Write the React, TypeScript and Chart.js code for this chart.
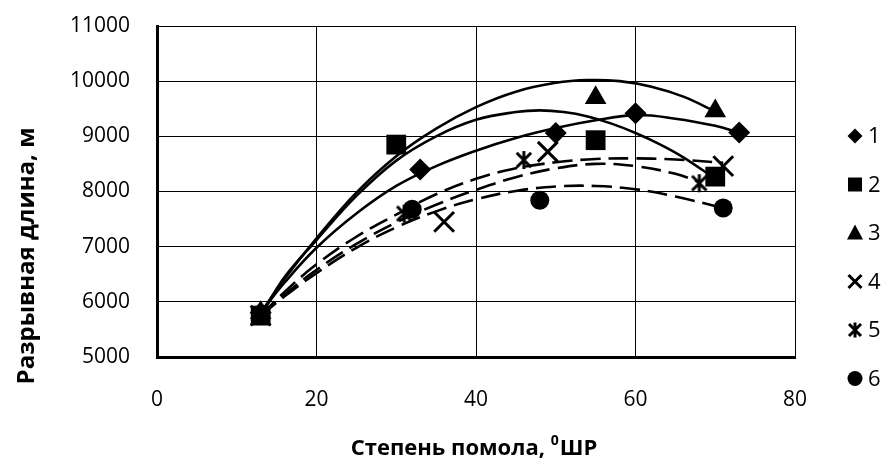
import React, { useEffect, useRef } from 'react';
import { Chart, registerables } from 'chart.js';

Chart.register(...registerables);

// ---- axis ticks / labels ----
const xTickValues = [0, 20, 40, 60, 80];
const yTickValues = [5000, 6000, 7000, 8000, 9000, 10000, 11000];
const legendLabels = ['1', '2', '3', '4', '5', '6'];
const yTitle = 'Разрывная длина, м';
const xTitleMain = 'Степень помола, ';
const xTitleSup = '0';
const xTitleTail = 'ШР';

// ---- measured points ----
const s1X = [13, 33, 50, 60, 73];
const s1Y = [5800, 8400, 9060, 9420, 9070];
const s2X = [13, 30, 55, 70];
const s2Y = [5750, 8850, 8930, 8270];
const s3X = [13, 55, 70];
const s3Y = [5800, 9700, 9460];
const s4X = [13, 36, 49, 71];
const s4Y = [5750, 7450, 8720, 8460];
const s5X = [13, 31, 46, 68];
const s5Y = [5750, 7600, 8570, 8150];
const s6X = [13, 32, 48, 71];
const s6Y = [5750, 7680, 7840, 7700];

// ---- trend lines ----
const t1X = [13, 16, 20, 25, 30, 35, 40, 45, 50, 55, 60, 65, 70, 73];
const t1Y = [5800, 6350, 6980, 7600, 8100, 8460, 8740, 8970, 9150, 9290, 9385, 9320, 9190, 9070];
const t2X = [13, 16, 20, 25, 30, 35, 40, 45, 48, 51, 54, 57, 60, 63, 66, 70];
const t2Y = [5750, 6450, 7120, 7920, 8560, 9000, 9300, 9440, 9470, 9440, 9360, 9230, 9060, 8860, 8620, 8230];
const t3X = [13, 16, 20, 25, 30, 35, 40, 45, 50, 54, 58, 62, 66, 70];
const t3Y = [5800, 6420, 7150, 7980, 8640, 9140, 9530, 9810, 9970, 10020, 10000, 9900, 9720, 9450];
const t4X = [13, 16, 20, 25, 30, 35, 40, 45, 50, 55, 60, 65, 71];
const t4Y = [5750, 6180, 6680, 7180, 7580, 7950, 8230, 8420, 8530, 8590, 8600, 8580, 8520];
const t5X = [13, 16, 20, 25, 30, 35, 40, 45, 50, 55, 60, 65, 68];
const t5Y = [5750, 6130, 6580, 7050, 7440, 7760, 8030, 8260, 8420, 8500, 8460, 8320, 8170];
const t6X = [13, 16, 20, 25, 30, 35, 40, 45, 50, 55, 60, 65, 71];
const t6Y = [5750, 6100, 6520, 6980, 7350, 7640, 7860, 8010, 8090, 8100, 8040, 7910, 7700];

const FONT = '"Open Sans", "Noto Sans", sans-serif';
const INK = '#000';

function pts(xs: number[], ys: number[]) {
  return xs.map((x, i) => ({ x, y: ys[i] }));
}

function makeAsterisk(size: number, lw: number): HTMLCanvasElement {
  const c = document.createElement('canvas');
  c.width = size;
  c.height = size;
  const g = c.getContext('2d')!;
  g.strokeStyle = INK;
  g.lineWidth = lw;
  const m = size / 2;
  const d = size / 2 - lw / 2 - 0.5;
  const k = d * 0.8;
  g.beginPath();
  g.moveTo(m - k, m - k); g.lineTo(m + k, m + k);
  g.moveTo(m + k, m - k); g.lineTo(m - k, m + k);
  g.moveTo(m, m - d); g.lineTo(m, m + d);
  g.stroke();
  return c;
}

function drawLegendMarker(ctx: CanvasRenderingContext2D, kind: number, x: number, y: number) {
  ctx.save();
  ctx.fillStyle = INK;
  ctx.strokeStyle = INK;
  ctx.lineWidth = 3;
  ctx.beginPath();
  if (kind === 0) {
    const r = 7.5;
    ctx.moveTo(x - r, y); ctx.lineTo(x, y - r); ctx.lineTo(x + r, y); ctx.lineTo(x, y + r);
    ctx.closePath(); ctx.fill();
  } else if (kind === 1) {
    ctx.rect(x - 7, y - 7, 14, 14); ctx.fill();
  } else if (kind === 2) {
    ctx.moveTo(x, y - 8.5); ctx.lineTo(x + 8, y + 6.5); ctx.lineTo(x - 8, y + 6.5);
    ctx.closePath(); ctx.fill();
  } else if (kind === 3) {
    const r = 6.5;
    ctx.moveTo(x - r, y - r); ctx.lineTo(x + r, y + r);
    ctx.moveTo(x + r, y - r); ctx.lineTo(x - r, y + r);
    ctx.stroke();
  } else if (kind === 4) {
    const r = 6;
    ctx.moveTo(x - r, y - r); ctx.lineTo(x + r, y + r);
    ctx.moveTo(x + r, y - r); ctx.lineTo(x - r, y + r);
    ctx.moveTo(x, y - 7.5); ctx.lineTo(x, y + 7.5);
    ctx.stroke();
  } else {
    ctx.arc(x, y, 7.5, 0, Math.PI * 2); ctx.fill();
  }
  ctx.restore();
}

const decorPlugin = {
  id: 'decor',
  afterDraw(chart: any) {
    const ctx: CanvasRenderingContext2D = chart.ctx;
    ctx.save();
    ctx.fillStyle = INK;
    // Y title
    ctx.font = `bold 24px ${FONT}`;
    ctx.textAlign = 'center';
    ctx.textBaseline = 'middle';
    ctx.save();
    ctx.translate(27, 256);
    ctx.rotate(-Math.PI / 2);
    ctx.fillText(yTitle, 0, 0);
    ctx.restore();
    // X title with superscript
    const bigFont = `bold 22px ${FONT}`;
    const smallFont = `bold 14px ${FONT}`;
    ctx.font = bigFont;
    const w1 = ctx.measureText(xTitleMain).width;
    const w3 = ctx.measureText(xTitleTail).width;
    ctx.font = smallFont;
    const w2 = ctx.measureText(xTitleSup).width + 1;
    const total = w1 + w2 + w3;
    const cx = 474;
    const cy = 447;
    const x0 = cx - total / 2;
    ctx.textAlign = 'left';
    ctx.textBaseline = 'alphabetic';
    ctx.font = bigFont;
    ctx.fillText(xTitleMain, x0, cy + 8);
    ctx.font = smallFont;
    ctx.fillText(xTitleSup, x0 + w1, cy - 2);
    ctx.font = bigFont;
    ctx.fillText(xTitleTail, x0 + w1 + w2, cy + 8);
    // Legend
    ctx.font = `22px ${FONT}`;
    ctx.textBaseline = 'middle';
    legendLabels.forEach((lab, i) => {
      const y = 136 + i * 48.5;
      drawLegendMarker(ctx, i, 855, y);
      ctx.fillStyle = INK;
      ctx.fillText(lab, 868, y + 1);
    });
    ctx.restore();
  },
};

export default function App() {
  const ref = useRef<HTMLCanvasElement | null>(null);

  useEffect(() => {
    document.body.style.margin = '0';
    const canvas = ref.current;
    if (!canvas) return;
    const asterisk = makeAsterisk(22, 3);

    const markerBase = {
      showLine: false,
      backgroundColor: INK,
      borderColor: INK,
    };
    const trendBase = (dashed: boolean) => ({
      showLine: true,
      borderColor: INK,
      borderWidth: 2.6,
      borderDash: dashed ? [20, 8] : [],
      pointRadius: 0,
      pointHoverRadius: 0,
      tension: 0.4,
      fill: false,
    });

    const chart = new Chart(canvas, {
      type: 'scatter',
      data: {
        datasets: [
          { ...markerBase, label: legendLabels[1], data: pts(s2X, s2Y), pointStyle: 'rect', pointRadius: 14, pointBorderWidth: 0 },
          { ...markerBase, label: legendLabels[0], data: pts(s1X, s1Y), pointStyle: 'rectRot', pointRadius: 11, pointBorderWidth: 0 },
          { ...markerBase, label: legendLabels[2], data: pts(s3X, s3Y), pointStyle: 'triangle', pointRadius: 12.5, pointBorderWidth: 0 },
          { ...markerBase, label: legendLabels[3], data: pts(s4X, s4Y), pointStyle: 'crossRot', pointRadius: 14, pointBorderWidth: 3 },
          { ...markerBase, label: legendLabels[4], data: pts(s5X, s5Y), pointStyle: asterisk as any, pointRadius: 11, pointBorderWidth: 0 },
          { ...markerBase, label: legendLabels[5], data: pts(s6X, s6Y), pointStyle: 'circle', pointRadius: 9.5, pointBorderWidth: 0 },
          { ...trendBase(false), label: 't1', data: pts(t1X, t1Y) },
          { ...trendBase(false), label: 't2', data: pts(t2X, t2Y) },
          { ...trendBase(false), label: 't3', data: pts(t3X, t3Y) },
          { ...trendBase(true), label: 't4', data: pts(t4X, t4Y) },
          { ...trendBase(true), label: 't5', data: pts(t5X, t5Y) },
          { ...trendBase(true), label: 't6', data: pts(t6X, t6Y) },
        ] as any,
      },
      options: {
        animation: false,
        responsive: false,
        devicePixelRatio: 1,
        layout: { padding: { left: 0, top: 26, right: 90, bottom: 0 } },
        plugins: {
          legend: { display: false },
          tooltip: { enabled: false },
          title: { display: false },
        },
        scales: {
          x: {
            type: 'linear',
            min: xTickValues[0],
            max: xTickValues[xTickValues.length - 1],
            afterBuildTicks: (s: any) => { s.ticks = xTickValues.map((v) => ({ value: v })); },
            afterFit: (s: any) => { s.height = 111; s.paddingLeft = 0; s.paddingRight = 0; },
            ticks: {
              padding: 30,
              color: INK,
              font: { family: FONT, size: 21 },
              callback: (v: any) => String(v),
              maxRotation: 0,
            },
            grid: { color: INK, lineWidth: 1, drawTicks: false },
            border: { display: true, color: INK, width: 3 },
          },
          y: {
            type: 'linear',
            min: yTickValues[0],
            max: yTickValues[yTickValues.length - 1],
            afterBuildTicks: (s: any) => { s.ticks = yTickValues.map((v) => ({ value: v })); },
            afterFit: (s: any) => { s.width = 157; s.paddingTop = 0; s.paddingBottom = 0; },
            ticks: {
              padding: 27,
              color: INK,
              font: { family: FONT, size: 21 },
              callback: (v: any) => String(v),
            },
            grid: { color: INK, lineWidth: 1, drawTicks: false },
            border: { display: true, color: INK, width: 3 },
          },
        },
      } as any,
      plugins: [decorPlugin as any],
    });
    return () => chart.destroy();
  }, []);

  return (
    <div style={{ width: 885, height: 468, background: '#fff' }}>
      <canvas ref={ref} width={885} height={468} style={{ display: 'block' }} />
    </div>
  );
}
